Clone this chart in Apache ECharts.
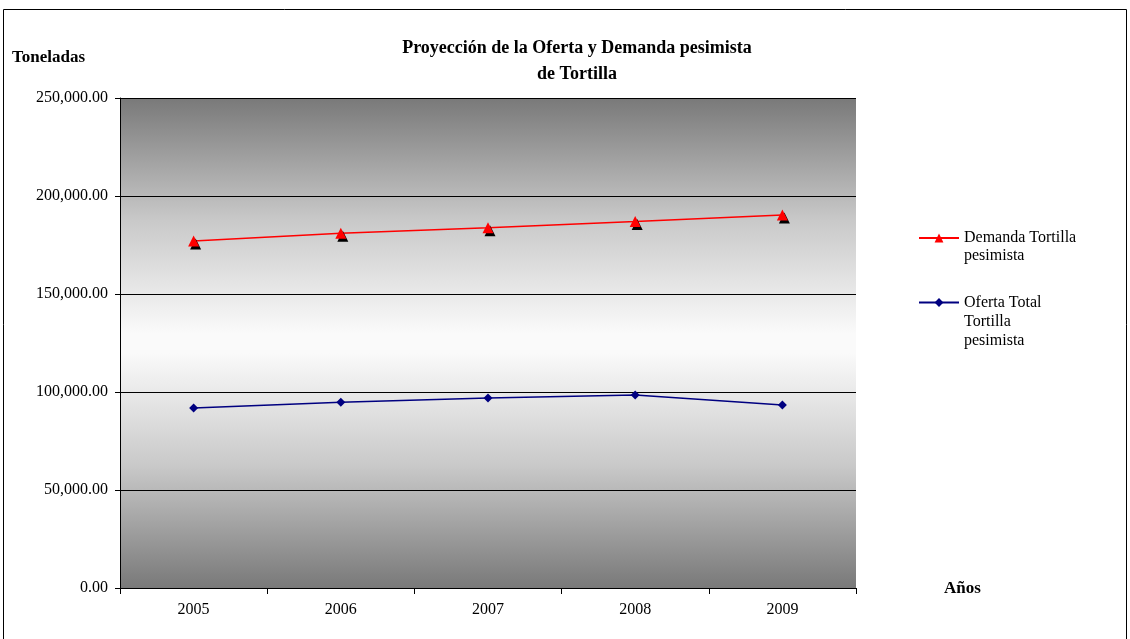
<!DOCTYPE html>
<html><head><meta charset="utf-8">
<script src="https://cdn.jsdelivr.net/npm/echarts@6/dist/echarts.min.js"></script>
<style>html,body{margin:0;padding:0;background:#fff}#c{width:1130px;height:639px}</style>
</head><body><div id="c"></div>
<script>
const years = ['2005','2006','2007','2008','2009'];
const demanda = [177000, 181000, 183800, 187000, 190300];
const oferta = [91800, 94800, 96900, 98500, 93400];
const yTicks = [0, 50000, 100000, 150000, 200000, 250000];
const titleText = 'Proyección de la Oferta y Demanda pesimista\nde Tortilla';
const nameDemanda = 'Demanda Tortilla\npesimista';
const nameOferta = 'Oferta Total\nTortilla\npesimista';

const FONT = '"Liberation Serif", "DejaVu Serif", serif';
// Prepend blank lines so the legend symbol lines up with the first text line
const legendFmt = name => '\n'.repeat(name.split('\n').length - 1) + name;
const chart = echarts.init(document.getElementById('c'));
chart.setOption({
  animation: false,
  textStyle: {fontFamily: FONT},
  title: {
    text: titleText, left: 572, top: 30, textAlign: 'center',
    textStyle: {fontFamily: FONT, fontSize: 18, fontWeight: 'bold', color: '#000', lineHeight: 26}
  },
  graphic: [
    {type: 'rect', shape: {x: 3.5, y: 9.5, width: 1123, height: 700}, style: {fill: 'none', stroke: '#000', lineWidth: 1}, silent: true},
    {type: 'text', left: 12, top: 49, style: {text: 'Toneladas', font: 'bold 17px ' + FONT, fill: '#000'}},
    {type: 'text', left: 944, top: 580, style: {text: 'Años', font: 'bold 17px ' + FONT, fill: '#000'}}
  ],
  legend: [
    {
      data: [nameDemanda], orient: 'vertical', left: 918, top: 211, padding: 0,
      itemWidth: 40, itemHeight: 11, itemGap: 0, formatter: legendFmt,
      textStyle: {fontFamily: FONT, fontSize: 16, color: '#000', lineHeight: 18}
    },
    {
      data: [nameOferta], orient: 'vertical', left: 918, top: 255, padding: 0,
      itemWidth: 40, itemHeight: 11, itemGap: 0, formatter: legendFmt,
      textStyle: {fontFamily: FONT, fontSize: 16, color: '#000', lineHeight: 19}
    }
  ],
  grid: {
    left: 120, right: 274, top: 98, bottom: 51, show: true, borderWidth: 0,
    backgroundColor: {type: 'linear', x: 0, y: 0, x2: 0, y2: 1, colorStops: [
      {offset: 0, color: '#797979'}, {offset: 0.25, color: '#c9c9c9'}, {offset: 0.48, color: '#fafafa'},
      {offset: 0.52, color: '#fafafa'}, {offset: 0.75, color: '#c9c9c9'}, {offset: 1, color: '#797979'}]}
  },
  xAxis: {
    type: 'category', data: years, boundaryGap: true,
    axisLine: {lineStyle: {color: '#000', width: 1}},
    axisTick: {show: true, alignWithLabel: false, length: 6, lineStyle: {color: '#000'}},
    axisLabel: {color: '#000', fontFamily: FONT, fontSize: 16, margin: 14}
  },
  yAxis: {
    type: 'value', min: yTicks[0], max: yTicks[yTicks.length - 1], interval: 50000,
    axisLine: {show: true, lineStyle: {color: '#000', width: 1}},
    axisTick: {show: true, length: 5, lineStyle: {color: '#000'}},
    splitLine: {show: true, lineStyle: {color: '#000', width: 1}},
    axisLabel: {color: '#000', fontFamily: FONT, fontSize: 16, margin: 12,
      formatter: v => v.toLocaleString('en-US', {minimumFractionDigits: 2, maximumFractionDigits: 2})}
  },
  series: [
    {
      name: nameDemanda, type: 'line', data: demanda, symbol: 'triangle', symbolSize: 11,
      lineStyle: {color: '#ff0000', width: 1.5}, itemStyle: {color: '#ff0000', shadowColor: '#000', shadowBlur: 0, shadowOffsetX: 2, shadowOffsetY: 3}
    },
    {
      name: nameOferta, type: 'line', data: oferta, symbol: 'diamond', symbolSize: 9,
      lineStyle: {color: '#000080', width: 1.5}, itemStyle: {color: '#000080'}
    }
  ]
});
</script></body></html>
